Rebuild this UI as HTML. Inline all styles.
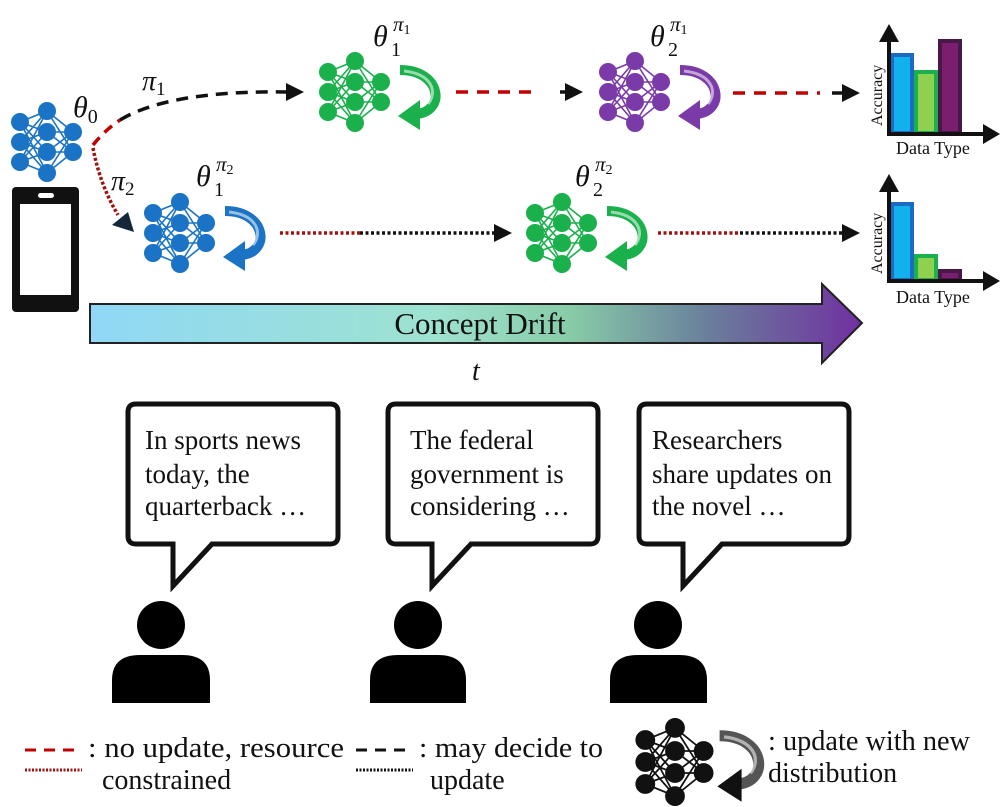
<!DOCTYPE html>
<html><head><meta charset="utf-8"><style>
html,body{margin:0;padding:0;background:#fff}
svg{display:block}
text{font-family:"Liberation Serif",serif}
</style></head><body>
<svg width="1008" height="807" viewBox="0 0 1008 807" xmlns="http://www.w3.org/2000/svg">
<defs>
<g id="nn">
<g stroke-width="1.6">
<path d="M-27-20L0-31M-27-20L0-10M-27-20L0 10M-27-20L0 31M-27 0L0-31M-27 0L0-10M-27 0L0 10M-27 0L0 31M-27 20L0-31M-27 20L0-10M-27 20L0 10M-27 20L0 31M0-31L26-10M0-31L26 10M0-10L26-10M0-10L26 10M0 10L26-10M0 10L26 10M0 31L26-10M0 31L26 10"/>
</g>
<circle cx="-27" cy="-20" r="8.5"/><circle cx="-27" cy="0" r="8.5"/><circle cx="-27" cy="20" r="8.5"/>
<circle cx="0" cy="-31" r="8.5"/><circle cx="0" cy="-10" r="8.5"/><circle cx="0" cy="10" r="8.5"/><circle cx="0" cy="31" r="8.5"/>
<circle cx="26" cy="-10" r="8.5"/><circle cx="26" cy="10" r="8.5"/>
</g>
<g id="ca">
<path d="M-4,-22 C38,-22 42,20 12,22" fill="none" stroke-width="10"/>
<polygon points="16,8 16,38 -6,24" stroke="none"/>
<path d="M0,-21 C28,-18 34,0 24,12" fill="none" stroke="#fff" stroke-opacity="0.55" stroke-width="3"/>
</g>
<linearGradient id="gr" x1="0" x2="1" y1="0" y2="0">
<stop offset="0" stop-color="#90d8f6"/><stop offset="0.45" stop-color="#9ee2d0"/><stop offset="0.62" stop-color="#88cca8"/><stop offset="0.8" stop-color="#6a7f9c"/><stop offset="1" stop-color="#7030a0"/>
</linearGradient>
</defs>

<!-- NNs -->
<g fill="#1a73c4" stroke="#1a73c4"><use href="#nn" x="47" y="142"/></g>
<g fill="#1ab04c" stroke="#1ab04c"><use href="#nn" x="355" y="92"/><use href="#ca" x="404" y="92"/></g>
<g fill="#7a3aa8" stroke="#7a3aa8"><use href="#nn" x="635" y="92"/><use href="#ca" x="684" y="92"/></g>
<g fill="#1a73c4" stroke="#1a73c4"><use href="#nn" x="180" y="233"/><use href="#ca" x="229" y="233"/></g>
<g fill="#1ab04c" stroke="#1ab04c"><use href="#nn" x="562" y="233"/><use href="#ca" x="611" y="233"/></g>
<g fill="#111" stroke="#111"><g transform="translate(675,762) scale(1.1)"><use href="#nn"/></g></g>
<g fill="#111" stroke="#555"><g transform="translate(724,760) scale(1.1)"><use href="#ca"/></g></g>

<!-- phone -->
<rect x="12" y="187" width="67" height="125" rx="4" fill="#111"/>
<rect x="20" y="204" width="51" height="91" fill="#fff"/>
<rect x="38" y="193" width="16" height="5" rx="2.5" fill="#fff"/>

<!-- connectors -->
<path d="M93 145 Q105 130 120 120" fill="none" stroke="#c00000" stroke-width="3.5" stroke-dasharray="10,7"/>
<path d="M120 120 Q170 90 290 92" fill="none" stroke="#111" stroke-width="3.5" stroke-dasharray="12,8"/>
<polygon points="286,83 304,92 286,101" fill="#111"/>
<line x1="456" y1="92" x2="540" y2="92" stroke="#c00000" stroke-width="3.5" stroke-dasharray="12,9"/>
<line x1="560" y1="92" x2="570" y2="92" stroke="#111" stroke-width="3.5"/>
<polygon points="565,83 583,92 565,101" fill="#111"/>
<line x1="733" y1="93" x2="820" y2="93" stroke="#c00000" stroke-width="3.5" stroke-dasharray="12,9"/>
<line x1="832" y1="93" x2="845" y2="93" stroke="#111" stroke-width="3.5"/>
<polygon points="842,84 860,93 842,102" fill="#111"/>
<path d="M93 148 Q100 185 118 215" fill="none" stroke="#a01010" stroke-width="3.5" stroke-dasharray="3,2"/>
<polygon points="112,225 134,232 128,212" fill="#14283a"/>
<line x1="280" y1="233" x2="360" y2="233" stroke="#a01010" stroke-width="3.5" stroke-dasharray="3,2.5"/>
<line x1="360" y1="233" x2="495" y2="233" stroke="#111" stroke-width="3.5" stroke-dasharray="3,2.5"/>
<polygon points="494,224 512,233 494,242" fill="#111"/>
<line x1="658" y1="233" x2="740" y2="233" stroke="#a01010" stroke-width="3.5" stroke-dasharray="3,2.5"/>
<line x1="740" y1="233" x2="842" y2="233" stroke="#111" stroke-width="3.5" stroke-dasharray="3,2.5"/>
<polygon points="842,224 860,233 842,242" fill="#111"/>

<!-- math labels -->
<g font-style="italic" fill="#111">
<text x="73" y="117" font-size="30" font-family="DejaVu Serif">θ<tspan font-size="20" dy="6" font-style="normal">0</tspan></text>
<text x="142" y="90" font-size="28" font-family="DejaVu Serif">π<tspan font-size="19" dy="5" font-style="normal">1</tspan></text>
<text x="111" y="190" font-size="28" font-family="DejaVu Serif">π<tspan font-size="19" dy="5" font-style="normal">2</tspan></text>
<text x="373" y="46" font-size="30" font-family="DejaVu Serif">θ</text><text x="391" y="56" font-size="20" font-family="DejaVu Serif" font-style="normal">1</text><text x="393" y="31" font-size="21" font-family="DejaVu Serif">π<tspan font-size="14" dy="3" font-style="normal">1</tspan></text>
<text x="650" y="46" font-size="30" font-family="DejaVu Serif">θ</text><text x="668" y="56" font-size="20" font-family="DejaVu Serif" font-style="normal">2</text><text x="670" y="31" font-size="21" font-family="DejaVu Serif">π<tspan font-size="14" dy="3" font-style="normal">1</tspan></text>
<text x="196" y="186" font-size="30" font-family="DejaVu Serif">θ</text><text x="214" y="196" font-size="20" font-family="DejaVu Serif" font-style="normal">1</text><text x="216" y="171" font-size="21" font-family="DejaVu Serif">π<tspan font-size="14" dy="3" font-style="normal">2</tspan></text>
<text x="575" y="186" font-size="30" font-family="DejaVu Serif">θ</text><text x="593" y="196" font-size="20" font-family="DejaVu Serif" font-style="normal">2</text><text x="595" y="171" font-size="21" font-family="DejaVu Serif">π<tspan font-size="14" dy="3" font-style="normal">2</tspan></text>
<text x="472" y="380" font-size="28" font-family="DejaVu Serif">t</text>
</g>

<!-- charts -->
<g>
<rect x="892" y="55" width="20" height="78" fill="#12b0ef" stroke="#1b6cc0" stroke-width="4"/>
<rect x="916" y="72" width="20" height="61" fill="#8fd050" stroke="#1ab04c" stroke-width="4"/>
<rect x="940" y="41" width="20" height="92" fill="#7a1f70" stroke="#4a1848" stroke-width="4"/>
<line x1="889" y1="40" x2="889" y2="136" stroke="#111" stroke-width="4"/>
<polygon points="879,42 889,24 899,42" fill="#111"/>
<line x1="887" y1="134" x2="985" y2="134" stroke="#111" stroke-width="4"/>
<polygon points="983,124 1000,134 983,144" fill="#111"/>
<text x="896" y="154" font-size="18" fill="#111">Data Type</text>
<text transform="translate(882,126) rotate(-90)" font-size="16" fill="#111">Accuracy</text>

<rect x="892" y="204" width="20" height="76" fill="#12b0ef" stroke="#1b6cc0" stroke-width="4"/>
<rect x="916" y="256" width="20" height="24" fill="#8fd050" stroke="#1ab04c" stroke-width="4"/>
<rect x="940" y="271" width="20" height="9" fill="#7a1f70" stroke="#4a1848" stroke-width="4"/>
<line x1="889" y1="188" x2="889" y2="283" stroke="#111" stroke-width="4"/>
<polygon points="879,192 889,174 899,192" fill="#111"/>
<line x1="887" y1="281" x2="985" y2="281" stroke="#111" stroke-width="4"/>
<polygon points="983,271 1000,281 983,291" fill="#111"/>
<text x="896" y="303" font-size="18" fill="#111">Data Type</text>
<text transform="translate(882,274) rotate(-90)" font-size="16" fill="#111">Accuracy</text>
</g>

<!-- concept drift arrow -->
<polygon points="90,304 822,304 822,284 862,323 822,363 822,343 90,343" fill="url(#gr)" stroke="#222" stroke-width="2"/>
<text x="480" y="334" font-size="31" text-anchor="middle" fill="#111">Concept Drift</text>

<!-- bubbles -->
<g fill="#fff" stroke="#111" stroke-width="5" stroke-linejoin="miter">
<path d="M136 404 H330 Q338 404 338 412 V536 Q338 544 330 544 H212 L173 586 L173 544 H136 Q128 544 128 536 V412 Q128 404 136 404Z"/>
<path d="M396 404 H590 Q598 404 598 412 V536 Q598 544 590 544 H471 L432 586 L432 544 H396 Q388 544 388 536 V412 Q388 404 396 404Z"/>
<path d="M647 404 H841 Q849 404 849 412 V536 Q849 544 841 544 H722 L683 586 L683 544 H647 Q639 544 639 536 V412 Q639 404 647 404Z"/>
</g>
<g font-size="27" fill="#111">
<text x="145" y="449">In sports news</text><text x="145" y="483">today, the</text><text x="145" y="515">quarterback …</text>
<text x="410" y="449">The federal</text><text x="410" y="483">government is</text><text x="410" y="515">considering …</text>
<text x="652" y="449">Researchers</text><text x="652" y="483">share updates on</text><text x="652" y="515">the novel …</text>
</g>

<!-- persons -->
<g fill="#000">
<ellipse cx="161" cy="625" rx="24" ry="24"/><path d="M112 703 V680 Q112 655 140 655 H182 Q210 655 210 680 V703Z"/>
<ellipse cx="418" cy="625" rx="24" ry="24"/><path d="M370 703 V680 Q370 655 398 655 H438 Q466 655 466 680 V703Z"/>
<ellipse cx="658" cy="625" rx="24" ry="24"/><path d="M610 703 V680 Q610 655 638 655 H679 Q707 655 707 680 V703Z"/>
</g>

<!-- legend -->
<line x1="25" y1="750" x2="82" y2="750" stroke="#c00000" stroke-width="3" stroke-dasharray="11,8"/>
<line x1="25" y1="770" x2="82" y2="770" stroke="#a01010" stroke-width="3" stroke-dasharray="2,1.5"/>
<text x="88" y="757" font-size="28" fill="#111" textLength="256" lengthAdjust="spacingAndGlyphs">: no update, resource</text>
<text x="102" y="789" font-size="28" fill="#111">constrained</text>
<line x1="356" y1="750" x2="413" y2="750" stroke="#111" stroke-width="3" stroke-dasharray="11,8"/>
<line x1="356" y1="770" x2="413" y2="770" stroke="#111" stroke-width="3" stroke-dasharray="2,1.5"/>
<text x="419" y="757" font-size="28" fill="#111" textLength="184" lengthAdjust="spacingAndGlyphs">: may decide to</text>
<text x="430" y="789" font-size="28" fill="#111">update</text>
<text x="768" y="750" font-size="28" fill="#111" textLength="202" lengthAdjust="spacingAndGlyphs">: update with new</text>
<text x="768" y="782" font-size="28" fill="#111">distribution</text>
</svg>
</body></html>
